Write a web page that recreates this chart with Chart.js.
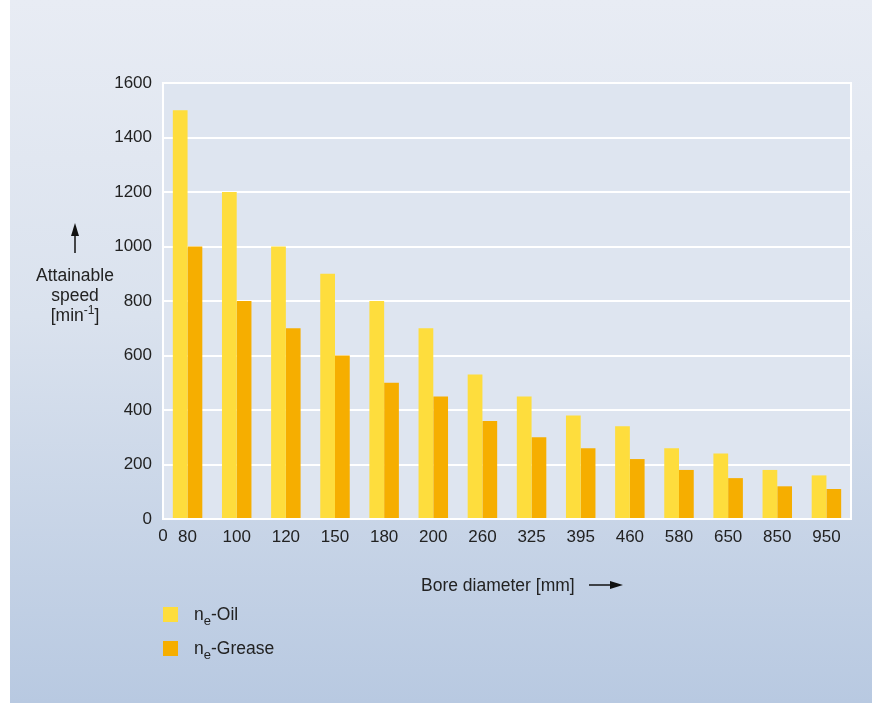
<!DOCTYPE html>
<html>
<head>
<meta charset="utf-8">
<script src="https://cdn.jsdelivr.net/npm/chart.js@4/dist/chart.umd.min.js"></script>
<style>
  html, body { margin: 0; padding: 0; background: #ffffff; }
  canvas { display: block; }
</style>
</head>
<body>
<canvas id="chart" width="872" height="703"></canvas>
<script>
// Bore diameters [mm]
const boreDiameters = ['80', '100', '120', '150', '180', '200', '260', '325', '395', '460', '580', '650', '850', '950'];
// Attainable speed [min-1] with oil lubrication
const speedOil = [1500, 1200, 1000, 900, 800, 700, 530, 450, 380, 340, 260, 240, 180, 160];
// Attainable speed [min-1] with grease lubrication
const speedGrease = [1000, 800, 700, 600, 500, 450, 360, 300, 260, 220, 180, 150, 120, 110];
// Series names: base letter, subscript, remainder
const seriesNames = [['n', 'e', '-Oil'], ['n', 'e', '-Grease']];

const FONT = '"Liberation Sans", Arial, Helvetica, sans-serif';
const TEXT = '#222222';
const OIL = '#fedd3d';
const GREASE = '#f6ae00';
const TITLE_PX = 17.5;
const TICK_PX = 17;

function arrow(ctx, x1, y1, x2, y2) {
  const ang = Math.atan2(y2 - y1, x2 - x1);
  const len = 13, half = 4;
  const bx = x2 - len * Math.cos(ang), by = y2 - len * Math.sin(ang);
  ctx.save();
  ctx.strokeStyle = '#111';
  ctx.fillStyle = '#111';
  ctx.lineWidth = 1.5;
  ctx.beginPath();
  ctx.moveTo(x1, y1);
  ctx.lineTo(bx, by);
  ctx.stroke();
  ctx.beginPath();
  ctx.moveTo(x2, y2);
  ctx.lineTo(bx - half * Math.sin(ang), by + half * Math.cos(ang));
  ctx.lineTo(bx + half * Math.sin(ang), by - half * Math.cos(ang));
  ctx.closePath();
  ctx.fill();
  ctx.restore();
}

const backdrop = {
  id: 'backdrop',
  beforeDraw(chart) {
    const { ctx, chartArea: a } = chart;
    ctx.save();
    ctx.fillStyle = '#ffffff';
    ctx.fillRect(0, 0, chart.width, chart.height);
    const g = ctx.createLinearGradient(0, 0, 0, chart.height);
    g.addColorStop(0, '#e8ecf4');
    g.addColorStop(0.45, '#dae2ee');
    g.addColorStop(1, '#b8c9e1');
    ctx.fillStyle = g;
    ctx.fillRect(10, 0, chart.width - 10, chart.height);
    ctx.fillStyle = '#dee5f0';
    ctx.fillRect(a.left, a.top, a.right - a.left, a.bottom - a.top);
    ctx.restore();
  },
  afterDatasetsDraw(chart) {
    const { ctx, chartArea: a } = chart;
    ctx.save();
    ctx.strokeStyle = '#ffffff';
    ctx.lineWidth = 2;
    ctx.strokeRect(a.left, a.top, a.right - a.left, a.bottom - a.top);
    ctx.restore();
  }
};

const annotations = {
  id: 'annotations',
  afterDraw(chart) {
    const { ctx, chartArea: a } = chart;
    const big = TITLE_PX + 'px ' + FONT;
    ctx.save();
    ctx.fillStyle = TEXT;
    ctx.textBaseline = 'middle';

    // origin label under the left edge of the category axis
    ctx.font = TICK_PX + 'px ' + FONT;
    ctx.textAlign = 'center';
    ctx.fillText('0', a.left, 536);

    // vertical axis title with arrow
    ctx.font = big;
    const cx = 75;
    arrow(ctx, cx, 253, cx, 223);
    ctx.fillText('Attainable', cx, 276);
    ctx.fillText('speed', cx, 296);
    ctx.textAlign = 'left';
    const w1 = ctx.measureText('[min').width;
    ctx.font = '12px ' + FONT;
    const w2 = ctx.measureText('-1').width;
    ctx.font = big;
    const w3 = ctx.measureText(']').width;
    let x = cx - (w1 + w2 + w3) / 2;
    ctx.fillText('[min', x, 316);
    x += w1;
    ctx.font = '12px ' + FONT;
    ctx.fillText('-1', x, 311);
    x += w2;
    ctx.font = big;
    ctx.fillText(']', x, 316);

    // horizontal axis title with arrow
    ctx.textAlign = 'left';
    ctx.fillText('Bore diameter [mm]', 421, 586);
    arrow(ctx, 589, 585, 623, 585);

    // legend
    const colors = [OIL, GREASE];
    const rows = [614, 648];
    chart.data.datasets.forEach((ds, i) => {
      const y = rows[i];
      ctx.fillStyle = colors[i];
      ctx.fillRect(163, y - 7, 15, 15);
      ctx.fillStyle = TEXT;
      const [base, sub, rest] = seriesNames[i];
      let tx = 194;
      ctx.font = big;
      ctx.fillText(base, tx, y + 1);
      tx += ctx.measureText(base).width;
      ctx.font = '13px ' + FONT;
      ctx.fillText(sub, tx, y + 7);
      tx += ctx.measureText(sub).width;
      ctx.font = big;
      ctx.fillText(rest, tx, y + 1);
    });
    ctx.restore();
  }
};

new Chart(document.getElementById('chart'), {
  type: 'bar',
  data: {
    labels: boreDiameters,
    datasets: [
      { label: 'ne-Oil', data: speedOil, backgroundColor: OIL, borderWidth: 0 },
      { label: 'ne-Grease', data: speedGrease, backgroundColor: GREASE, borderWidth: 0 }
    ]
  },
  options: {
    responsive: false,
    devicePixelRatio: 1,
    animation: false,
    events: [],
    layout: { padding: { top: 83, right: 21, left: 0, bottom: 0 } },
    datasets: { bar: { categoryPercentage: 0.6, barPercentage: 1.0 } },
    plugins: { legend: { display: false }, tooltip: { enabled: false } },
    scales: {
      x: {
        grid: { display: false },
        border: { display: false },
        ticks: { color: TEXT, font: { family: FONT, size: TICK_PX }, padding: 0, maxRotation: 0, autoSkip: false },
        afterFit(scale) { scale.height = 184; }
      },
      y: {
        min: 0,
        max: 1600,
        grid: { color: '#ffffff', lineWidth: 2, drawTicks: false },
        border: { display: false },
        ticks: {
          stepSize: 200,
          color: TEXT,
          font: { family: FONT, size: TICK_PX },
          padding: 11,
          callback: (v) => String(v)
        },
        afterFit(scale) { scale.width = 163; }
      }
    }
  },
  plugins: [backdrop, annotations]
});
</script>
</body>
</html>
